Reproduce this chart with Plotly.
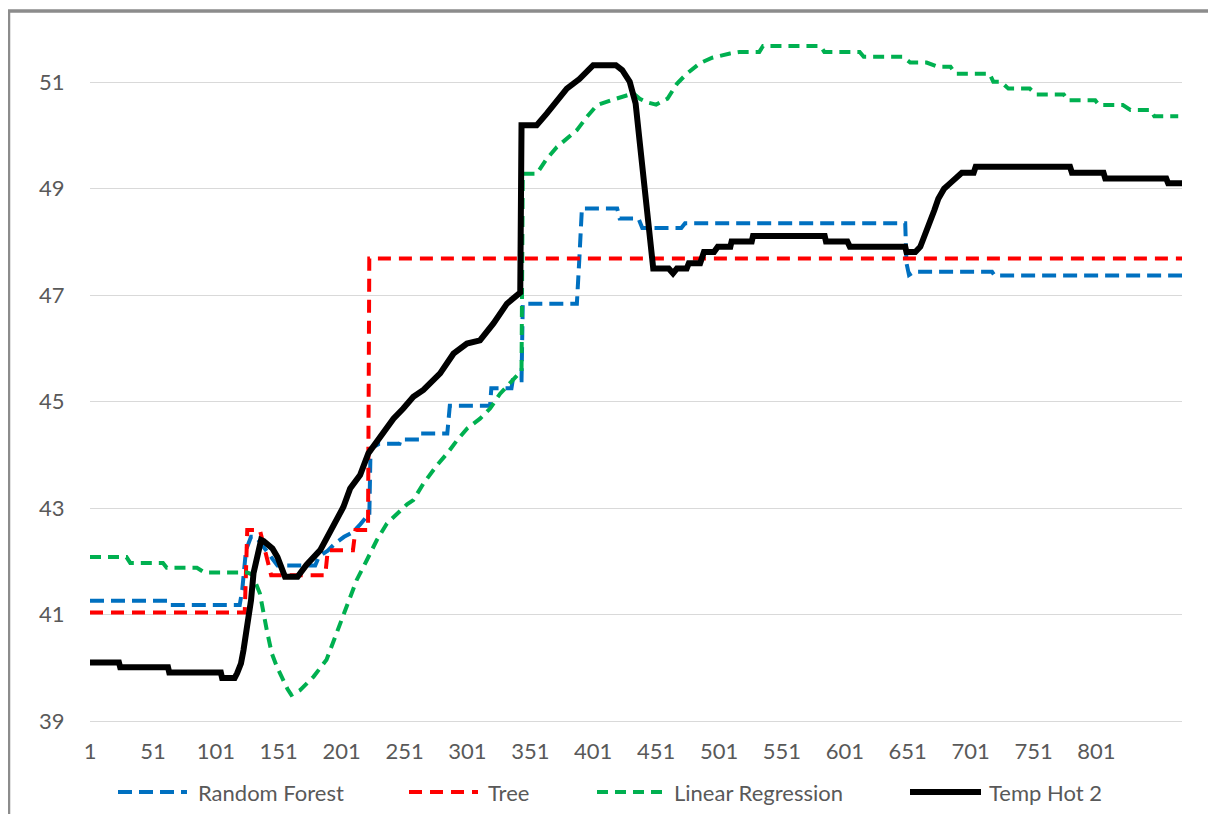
import plotly.graph_objects as go

# ---------------- data ----------------
series_names = ["Random Forest", "Tree", "Linear Regression", "Temp Hot 2"]

x_tick_labels = [1, 51, 101, 151, 201, 251, 301, 351, 401, 451, 501, 551, 601, 651, 701, 751, 801]
y_tick_labels = [39, 41, 43, 45, 47, 49, 51]

rf_x = [1, 63, 64, 120, 122, 125, 129, 133, 139, 145, 150, 180, 183, 190, 196, 203, 210,
        216, 221, 223, 224, 231, 247, 248, 263, 264, 285, 287, 319, 320, 336, 337, 344,
        345, 388, 390, 392, 420, 422, 437, 440, 471, 474, 649, 650, 652, 656, 718, 720, 869]
rf_y = [41.26, 41.26, 41.18, 41.18, 41.46, 42.21, 42.46, 42.46, 42.27, 42.09, 41.92, 41.92,
        42.09, 42.2, 42.34, 42.46, 42.55, 42.7, 42.84, 42.84, 44.12, 44.21, 44.21, 44.29,
        44.29, 44.40, 44.40, 44.92, 44.92, 45.25, 45.25, 45.40, 45.40, 46.84, 46.84, 47.7,
        48.63, 48.63, 48.44, 48.44, 48.26, 48.26, 48.35, 48.35, 47.6, 47.38, 47.44, 47.44,
        47.37, 47.37]

tree_x = [1, 124, 126, 136, 145, 188, 190, 210, 212, 222, 223, 869]
tree_y = [41.04, 41.04, 42.59, 42.59, 41.74, 41.74, 42.21, 42.21, 42.59, 42.59, 47.69, 47.69]

lr_x = [1, 30, 33, 59, 62, 86, 92, 126, 130, 136, 141.5, 145.5, 149.5, 154.7, 158, 161,
        168, 178.6, 189, 197, 205, 213, 221, 229, 237, 245, 253, 258, 266, 277, 285, 293,
        301, 311, 319, 327, 335, 342, 344, 345, 356, 364, 372, 380, 388, 396, 404, 415,
        428, 433, 438, 444, 451, 460, 467.5, 475.3, 486, 495.6, 509.7, 517.5, 533, 536,
        581.5, 584.7, 612.8, 616, 647, 653, 666, 675, 685, 689, 716, 719, 725, 731, 748,
        753, 775, 778, 800, 803, 822, 828, 844, 847, 866]
lr_y = [42.08, 42.08, 41.97, 41.97, 41.88, 41.88, 41.79, 41.79, 41.75, 41.40, 40.71, 40.27,
        40.02, 39.74, 39.6, 39.49, 39.58, 39.83, 40.15, 40.65, 41.15, 41.65, 42.02, 42.40,
        42.71, 42.90, 43.07, 43.15, 43.46, 43.81, 44.03, 44.28, 44.50, 44.68, 44.87, 45.15,
        45.34, 45.53, 45.55, 49.28, 49.28, 49.56, 49.78, 49.94, 50.10, 50.35, 50.57, 50.66,
        50.76, 50.79, 50.69, 50.62, 50.58, 50.69, 50.97, 51.16, 51.36, 51.46, 51.54, 51.57,
        51.57, 51.68, 51.68, 51.57, 51.57, 51.48, 51.48, 51.37, 51.37, 51.29, 51.29, 51.16,
        51.16, 51.01, 51.01, 50.88, 50.88, 50.77, 50.77, 50.66, 50.66, 50.57, 50.57, 50.48,
        50.48, 50.36, 50.36]

temp_x = [1, 24, 25, 63, 64, 105, 106, 116, 118, 121, 123, 126, 129, 131, 135, 137, 139,
          143, 146, 150, 154, 156, 166, 170, 173, 184, 194.5, 202.4, 207.8, 215.7, 222.3,
          231.6, 242.2, 250, 258, 266, 274, 279.3, 289.9, 295, 300.6, 311, 321.7, 332.4,
          341.6, 343, 344, 356, 364, 372, 380, 390, 396, 401, 419, 424, 430, 434.7, 437.8,
          440.9, 444.1, 446.6, 448.7, 461, 464.4, 467.5, 475.3, 477, 486, 489, 497, 500,
          510, 511, 527, 528, 585, 586, 603, 605, 649, 650, 657, 661, 664.4, 669, 672.2,
          675.3, 679.9, 684.6, 689.3, 694, 703.4, 705, 780, 781.5, 806.6, 808, 856.5, 858, 869]
temp_y = [40.10, 40.10, 40.01, 40.01, 39.91, 39.91, 39.81, 39.81, 39.9, 40.08, 40.33, 40.77,
          41.27, 41.78, 42.27, 42.40, 42.38, 42.3, 42.24, 42.08, 41.84, 41.71, 41.71, 41.85,
          41.93, 42.21, 42.65, 43.02, 43.37, 43.62, 44.03, 44.34, 44.68, 44.87, 45.09, 45.22,
          45.40, 45.53, 45.90, 46.0, 46.09, 46.15, 46.47, 46.84, 47.03, 47.05, 50.19, 50.19,
          50.41, 50.66, 50.88, 51.06, 51.19, 51.32, 51.32, 51.23, 51.01, 50.60, 49.91, 49.22,
          48.60, 47.91, 47.50, 47.50, 47.41, 47.50, 47.50, 47.60, 47.60, 47.81, 47.81, 47.91,
          47.91, 48.01, 48.01, 48.11, 48.11, 48.01, 48.01, 47.91, 47.91, 47.81, 47.81, 47.91,
          48.11, 48.35, 48.60, 48.81, 49.00, 49.10, 49.19, 49.30, 49.30, 49.41, 49.41, 49.30,
          49.30, 49.19, 49.19, 49.10, 49.10]

# ---------------- styling ----------------
colors = ["#0070C0", "#FF0000", "#00B050", "#000000"]
dashes = ["14px,7px", "13px,8px", "11px,7px", "solid"]
widths = [4, 4, 4, 6]
text_color = "#595959"
font_family = "Lato, 'Open Sans', sans-serif"

# The page body has an 8px margin; geometry below is expressed in figure pixels.
OFF = 8
W, H = 1208, 806
ML, MR, MT, MB = 82, 34, 21, 93
PW, PH = W - ML - MR, H - MT - MB


def px_to_paper_x(px):
    # px: page pixel
    return (px - OFF - ML) / PW


def py_to_paper_y(py):
    return (H - MB - (py - OFF)) / PH


fig = go.Figure()
for name, xs, ys, c, d, w in zip(series_names,
                                 [rf_x, tree_x, lr_x, temp_x],
                                 [rf_y, tree_y, lr_y, temp_y],
                                 colors, dashes, widths):
    fig.add_trace(go.Scatter(x=xs, y=ys, mode="lines", name=name,
                             line=dict(color=c, width=w, dash=d),
                             showlegend=False, hoverinfo="x+y+name"))

shapes = []
annotations = []
# frame around the chart area
shapes.append(dict(type="rect", xref="paper", yref="paper",
                   x0=px_to_paper_x(8.5), x1=px_to_paper_x(1213),
                   y0=py_to_paper_y(840), y1=py_to_paper_y(11),
                   line=dict(color="#8C8C8C", width=3.5), fillcolor="rgba(0,0,0,0)",
                   layer="above"))

# manual legend (line sample + label) below the axis
leg_line_px = [(118, 187), (409, 478), (597, 664), (910, 981)]
leg_text_px = [196, 486, 672, 987]
leg_y = py_to_paper_y(792)
for name, (a, b), tx, c, d, w in zip(series_names, leg_line_px, leg_text_px, colors, dashes, widths):
    shapes.append(dict(type="line", xref="paper", yref="paper",
                       x0=px_to_paper_x(a), x1=px_to_paper_x(b), y0=leg_y, y1=leg_y,
                       line=dict(color=c, width=w, dash=d)))
    annotations.append(dict(xref="paper", yref="paper", x=px_to_paper_x(tx), y=leg_y,
                            xanchor="left", yanchor="middle", text=name, showarrow=False,
                            font=dict(family=font_family, size=22, color=text_color)))

fig.update_layout(
    width=W, height=H,
    margin=dict(l=ML, r=MR, t=MT, b=MB, pad=0),
    paper_bgcolor="white", plot_bgcolor="white",
    showlegend=False,
    font=dict(family=font_family, size=22, color=text_color),
    shapes=shapes,
    annotations=annotations,
    xaxis=dict(range=[1, 869], tickmode="array", tickvals=x_tick_labels,
               ticktext=[str(v) for v in x_tick_labels],
               showgrid=False, zeroline=False, showline=True,
               linecolor="#D9D9D9", linewidth=1.3,
               ticks="outside", ticklen=10, tickcolor="rgba(0,0,0,0)",
               tickfont=dict(family=font_family, size=22, color=text_color)),
    yaxis=dict(range=[39, 52], tickmode="array", tickvals=y_tick_labels,
               showgrid=True, gridcolor="#D9D9D9", gridwidth=1.3, zeroline=False,
               showline=False, ticks="outside", ticklen=20, tickcolor="rgba(0,0,0,0)",
               tickfont=dict(family=font_family, size=22, color=text_color)),
)

fig.write_html("out.html")
